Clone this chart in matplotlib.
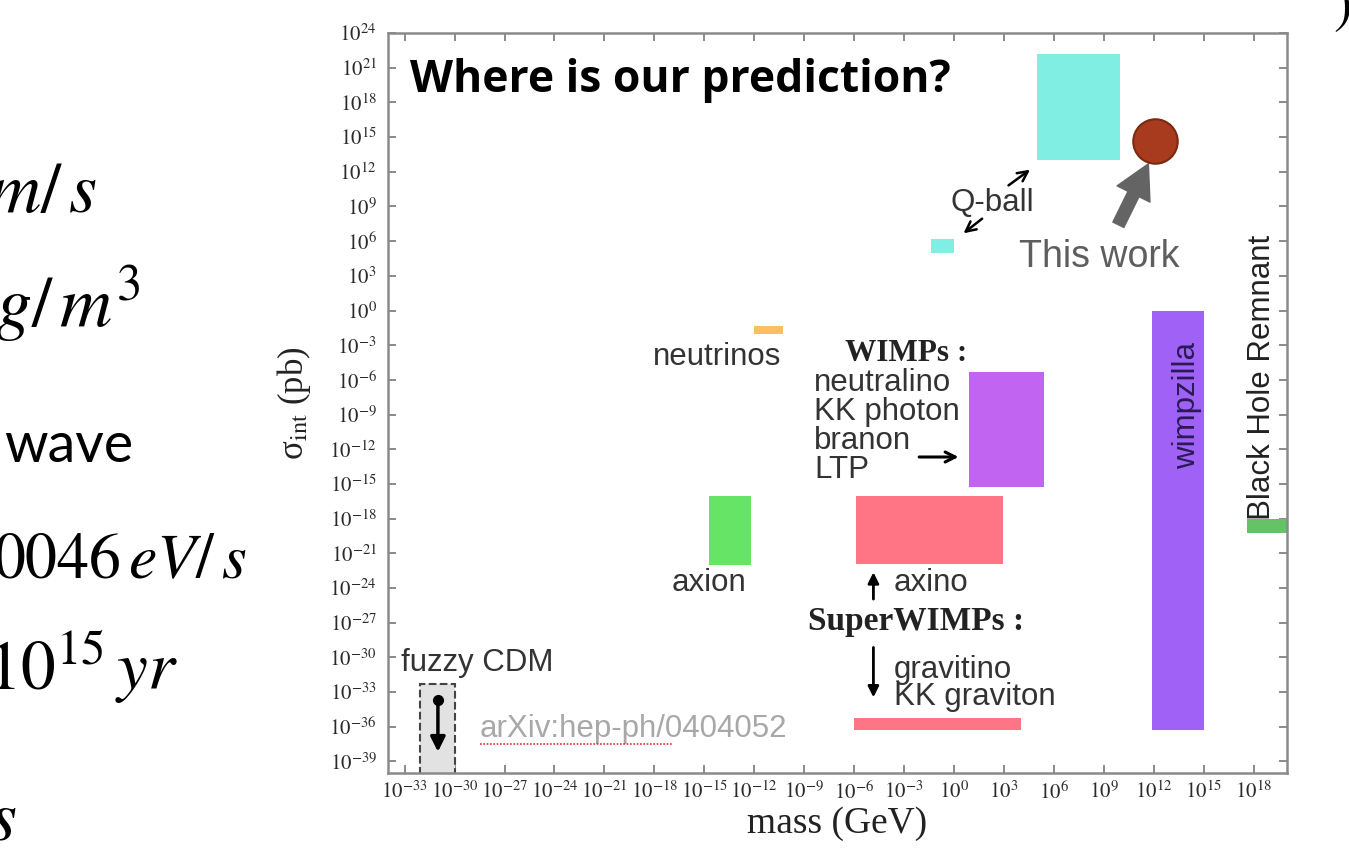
import numpy as np
import matplotlib
matplotlib.use("Agg")
import matplotlib.pyplot as plt
from matplotlib.patches import Rectangle

plt.rcParams['mathtext.fontset'] = 'stix'
plt.rcParams['font.family'] = ['Liberation Serif', 'DejaVu Serif']

# Dark matter candidates: log10 of mass (GeV) and cross section (pb) bounds
names = ['axion', 'neutrinos', 'Q-ball light', 'Q-ball heavy', 'WIMPs',
         'axino', 'gravitino', 'wimpzilla', 'black hole remnant']
logm_lo = [-14.7, -12.0, -1.4, 5.0, 0.9, -5.9, -6.0, 11.9, 17.6]
logm_hi = [-12.2, -10.3, 0.0, 10.0, 5.4, 2.95, 4.0, 15.0, 20.0]
logs_lo = [-22.0, -2.0, 5.0, 13.0, -15.3, -21.9, -36.3, -36.3, -19.2]
logs_hi = [-16.0, -1.3, 6.2, 22.2, -5.3, -16.0, -35.2, 0.0, -18.0]
colors = ['#66e466', '#f8c060', '#80eee2', '#80eee2', '#c264f2',
          '#ff7585', '#ff7585', '#a062f6', '#66c266']

# fuzzy CDM band (upper limit only)
fuzzy_logm = [-32.1, -30.0]
fuzzy_logs_top = -32.3

# our prediction
this_work_logm = 12.1
this_work_logs = 14.7

xticks_exp = list(range(-33, 19, 3))
yticks_exp = list(range(-39, 25, 3))

fig = plt.figure(figsize=(13.49, 8.55), dpi=100)
ax = fig.add_axes([0.2876, 0.0959, 0.6664, 0.8655])
ax.set_xscale('log')
ax.set_yscale('log')
ax.set_xlim(1e-34, 1e20)
ax.set_ylim(1e-40, 1e24)

for lo, hi, slo, shi, c in zip(logm_lo, logm_hi, logs_lo, logs_hi, colors):
    ax.add_patch(Rectangle((10**lo, 10**slo), 10**hi - 10**lo, 10**shi - 10**slo,
                           facecolor=c, edgecolor='none', zorder=2))

ax.add_patch(Rectangle((10**fuzzy_logm[0], 1e-41), 10**fuzzy_logm[1] - 10**fuzzy_logm[0],
                       10**fuzzy_logs_top - 1e-41, facecolor='#e2e2e2',
                       edgecolor='#444444', ls='--', lw=1.5, zorder=2))
ax.plot([10**-31.0], [10**-33.7], 'o', color='black', ms=7, zorder=4)
ax.annotate('', xy=(10**-31.0, 10**-38.4), xytext=(10**-31.0, 10**-33.7),
            arrowprops=dict(arrowstyle='-|>', color='black', lw=2.5, mutation_scale=22))

# prediction marker
ax.plot([10**this_work_logm], [10**this_work_logs], 'o', ms=32, color='#a83b1d',
        mec='#7a2a12', mew=1.5, zorder=5)

ax.set_xticks([10.0**k for k in xticks_exp])
ax.set_xticklabels([r'$10^{%d}$' % k for k in xticks_exp])
ax.set_yticks([10.0**k for k in yticks_exp])
ax.set_yticklabels([r'$10^{%d}$' % k for k in yticks_exp])
ax.minorticks_off()
ax.tick_params(direction='in', top=True, right=True, length=6, width=1.2,
               color='#777777', labelsize=15, labelcolor='#2a2a2a')
ax.tick_params(axis='y', pad=8)
ax.tick_params(axis='x', pad=6)
for s in ax.spines.values():
    s.set_color('#8a8a8a')
    s.set_linewidth(1.8)

ax.set_xlabel('mass (GeV)', fontsize=27, labelpad=2, color='#222222')
ax.set_ylabel(r'σ$_{\rm int}$ (pb)', fontsize=25, labelpad=12, color='#222222')

sans = 'Liberation Sans'
tc = '#333333'


def lab(lx, ly, s, **kw):
    kw.setdefault('family', sans)
    kw.setdefault('fontsize', 22.5)
    kw.setdefault('color', tc)
    ax.text(10**lx, 10**ly, s, **kw)


def arrow(x0, y0, x1, y1, style='->', lw=2, ms=18, color='black'):
    ax.annotate('', xy=(10**x1, 10**y1), xytext=(10**x0, 10**y0),
                arrowprops=dict(arrowstyle=style, color=color, lw=lw, mutation_scale=ms))


lab(-32.7, 19.9, 'Where is our prediction?', family='Open Sans', fontweight='bold',
    fontsize=32, color='black', va='center')
lab(-14.2, -4.0, 'neutrinos', ha='center', va='center')
lab(-2.9, -3.75, 'WIMPs :', family='Liberation Serif', fontweight='bold', ha='center',
    va='center', color='#222222', fontsize=22.5)
lab(-8.4, -10.03, 'neutralino\nKK photon\nbranon\nLTP', va='center', linespacing=0.97)
arrow(-2.26, -12.67, 0.44, -12.67, lw=2.2)
lab(-14.7, -23.6, 'axion', ha='center', va='center')
arrow(-4.84, -25.2, -4.84, -22.4, style='-|>', lw=2, ms=16)
lab(-3.6, -23.6, 'axino', va='center')
lab(-2.26, -26.9, 'SuperWIMPs :', family='Liberation Serif', fontweight='bold',
    ha='center', va='center', color='#222222', fontsize=24)
arrow(-4.84, -28.9, -4.84, -33.7, style='-|>', lw=2, ms=16)
lab(-3.6, -32.26, 'gravitino\nKK graviton', va='center', linespacing=0.9)
lab(-33.2, -30.5, 'fuzzy CDM', va='center')
lab(-28.5, -36.2, 'arXiv:hep-ph/0404052', va='center', color='#a8a8a8', fontsize=22.5)
ax.plot([10**-28.5, 10**-16.9], [10**-37.5, 10**-37.5], color='#e03030', lw=1.2,
        ls=(0, (1, 1)), zorder=3)
lab(2.3, 9.3, 'Q-ball', ha='center', va='center')
arrow(3.14, 10.68, 4.7, 12.32, lw=1.8)
arrow(1.82, 8.09, 0.44, 6.53, lw=1.8)
lab(8.7, 4.6, 'This work', ha='center', va='center', color='#5e5e5e', fontsize=27)
ax.annotate('', xy=(10**11.75, 10**12.9), xytext=(10**9.8, 10**7.2),
            arrowprops=dict(arrowstyle='simple,head_width=1.2,head_length=1.1,tail_width=0.4',
                            color='#646464', mutation_scale=22))
lab(14.0, -8.2, 'wimpzilla', ha='center', va='center', rotation=90, color='#2a1a55')
lab(18.5, -5.8, 'Black Hole Remnant', ha='center', va='center', rotation=90,
    color='#222222')

# slide text running off the left edge
W, H = 1349.0, 855.0
big = dict(fontsize=52, ha='right', va='baseline', color='black')
fig.text(97 / W, 1 - 212 / H, r'$m/\,s$', **big)
fig.text(140 / W, 1 - 327 / H, r'$g/\,m^3$', **big)
fig.text(133 / W, 1 - 462 / H, 'wave', family='Lato', fontsize=40, ha='right',
         va='baseline', color='black')
fig.text(247 / W, 1 - 578 / H, r'$\mathrm{0046}\,eV/\,s$', fontsize=46, ha='right',
         va='baseline', color='black')
fig.text(178 / W, 1 - 690 / H, r'$\mathrm{10}^{15}\,yr$', fontsize=50, ha='right',
         va='baseline', color='black')
fig.text(16 / W, 1 - 840 / H, r'$s$', **big)
fig.text(1342 / W, 1 - 22 / H, r'$)$', fontsize=40, ha='center', va='baseline',
         color='black')

fig.savefig('out.png', dpi=100)
